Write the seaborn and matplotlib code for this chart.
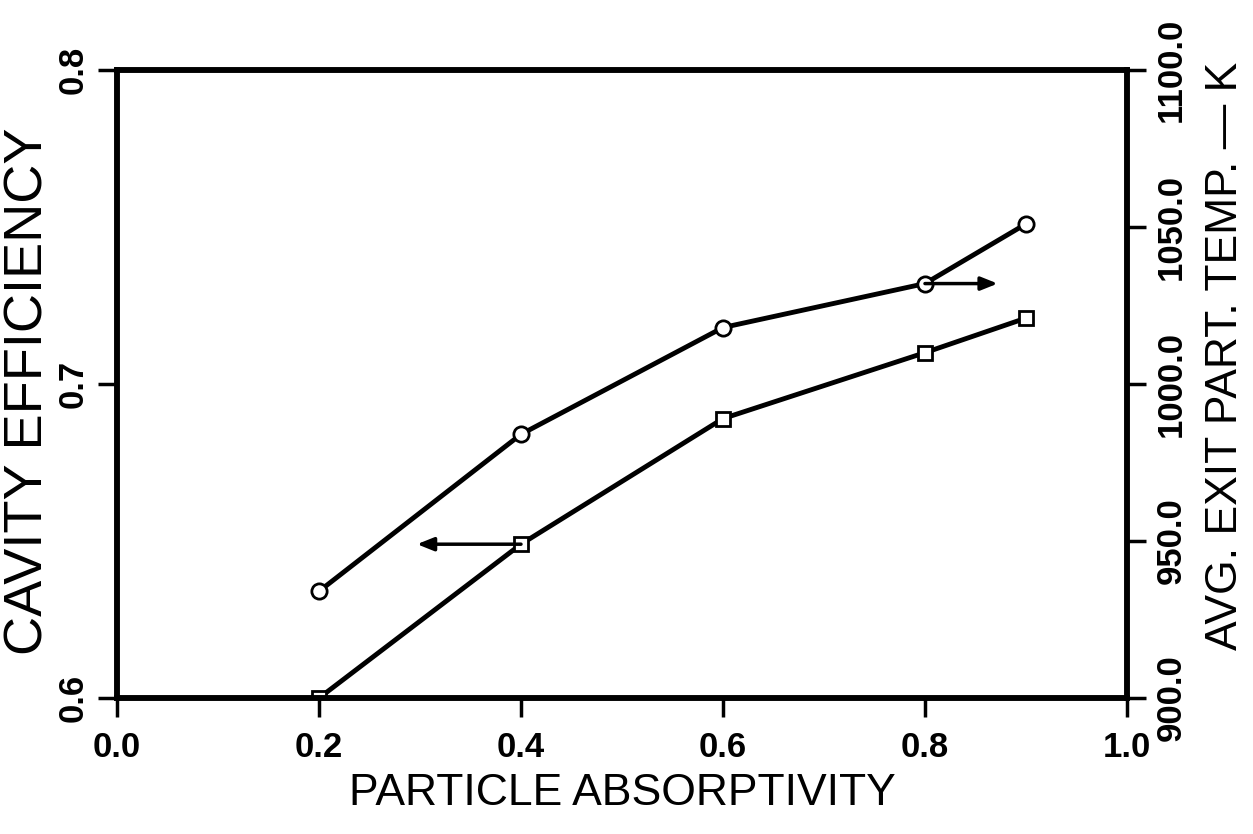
import matplotlib
matplotlib.use("Agg")
import matplotlib.pyplot as plt
import seaborn as sns
import pandas as pd

absorptivity = [0.2, 0.4, 0.6, 0.8, 0.9]
efficiency = [0.600, 0.649, 0.689, 0.710, 0.721]
exit_temp = [934.0, 984.0, 1018.0, 1032.0, 1051.0]

x_ticks = [0.0, 0.2, 0.4, 0.6, 0.8, 1.0]
left_ticks = [0.6, 0.7, 0.8]
right_ticks = [900.0, 950.0, 1000.0, 1050.0, 1100.0]

sns.set_style("ticks")
plt.rcParams['font.family'] = ['Liberation Sans', 'DejaVu Sans']
plt.rcParams['text.color'] = 'black'
plt.rcParams['axes.labelcolor'] = 'black'
plt.rcParams['xtick.color'] = 'black'
plt.rcParams['ytick.color'] = 'black'

fig = plt.figure(figsize=(12.53, 8.34), dpi=100)
ax = fig.add_axes([0.0934, 0.163, 0.806, 0.753])
ax2 = ax.twinx()

df_eff = pd.DataFrame({"x": absorptivity, "y": efficiency})
df_tmp = pd.DataFrame({"x": absorptivity, "y": exit_temp})

sns.lineplot(data=df_eff, x="x", y="y", ax=ax, color="black", lw=3.5,
             marker="s", markersize=10, markerfacecolor="white",
             markeredgecolor="black", markeredgewidth=2)
sns.lineplot(data=df_tmp, x="x", y="y", ax=ax2, color="black", lw=3.5,
             marker="o", markersize=11, markerfacecolor="white",
             markeredgecolor="black", markeredgewidth=2)

# arrows
ax.annotate("", xy=(0.297, efficiency[1]), xytext=(absorptivity[1], efficiency[1]),
            arrowprops=dict(arrowstyle="-|>,head_length=1.0,head_width=0.4",
                            color="black", lw=2.5, shrinkA=0, shrinkB=0))
ax2.annotate("", xy=(0.872, exit_temp[3]), xytext=(absorptivity[3], exit_temp[3]),
             arrowprops=dict(arrowstyle="-|>,head_length=1.0,head_width=0.4",
                             color="black", lw=2.5, shrinkA=0, shrinkB=0))

ax.set_xlim(0.0, 1.0)
ax.set_ylim(0.6, 0.8)
ax2.set_ylim(900, 1100)

tick_font = dict(fontsize=25, fontweight="bold", color="black")
ax.set_xticks(x_ticks)
ax.set_xticklabels([f"{v:.1f}" for v in x_ticks], **tick_font)
ax.set_yticks(left_ticks)
ax.set_yticklabels([f"{v:.1f}" for v in left_ticks], rotation=90,
                   va="center", **tick_font)
ax2.set_yticks(right_ticks)
ax2.set_yticklabels([f"{v:.1f}" for v in right_ticks], rotation=90,
                    va="center", **tick_font)

for a in (ax, ax2):
    for s in a.spines.values():
        s.set_linewidth(4)
        s.set_color("black")
    a.tick_params(direction="out", length=14, width=2.5, colors="black")

ax.tick_params(axis="x", pad=10)
ax.tick_params(axis="y", pad=6)
ax2.tick_params(axis="y", pad=6)

ax.set_xlabel("PARTICLE ABSORPTIVITY", fontsize=32, labelpad=6, color="black")
ax.set_ylabel("CAVITY EFFICIENCY", fontsize=39, color="black")
ax.yaxis.set_label_coords(-0.063, 0.489)
ax2.set_ylabel("AVG. EXIT PART. TEMP. \u2014 K", fontsize=32, color="black",
               rotation=90)
ax2.yaxis.set_label_coords(1.077, 0.545)

fig.savefig("out.png", dpi=100)
